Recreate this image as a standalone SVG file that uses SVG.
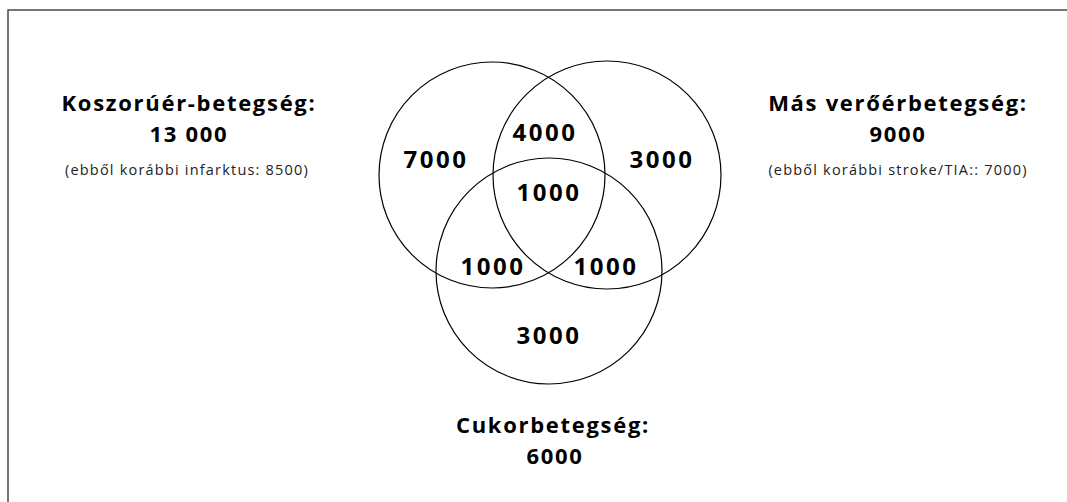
<svg xmlns="http://www.w3.org/2000/svg" width="1067" height="502" viewBox="0 0 1067 502">
<style>
.frame{fill:none;stroke:#4a4a4a;stroke-width:1.5}
.c{fill:none;stroke:#000;stroke-width:1.2}
.t{font-family:"Open Sans",sans-serif;font-weight:700;font-size:22px;letter-spacing:1.7px;fill:#000;text-anchor:middle}
.n{font-family:"Open Sans",sans-serif;font-weight:700;font-size:24px;letter-spacing:2.5px;fill:#000;text-anchor:middle}
.s{font-family:"Open Sans",sans-serif;font-weight:400;font-size:14.5px;letter-spacing:1.2px;fill:#222;text-anchor:middle}
</style>
<rect width="1067" height="502" fill="#fff"/>
<path class="frame" d="M8,502 V10 H1067"/>
<g id="circles">
<circle id="coronary" class="c" cx="492" cy="175" r="113"/>
<circle id="vascular" class="c" cx="607" cy="175" r="114"/>
<circle id="diabetes" class="c" cx="549" cy="271" r="113"/>
</g>
<g id="label-coronary">
<text class="t" x="189" y="111">Koszorúér-betegség:</text>
<text class="t" x="189" y="142">13 000</text>
<text class="s" x="187" y="175">(ebből korábbi infarktus: 8500)</text>
</g>
<g id="label-vascular">
<text class="t" x="898" y="111">Más verőérbetegség:</text>
<text class="t" x="898" y="142">9000</text>
<text class="s" x="898" y="175">(ebből korábbi stroke/TIA:: 7000)</text>
</g>
<g id="label-diabetes">
<text class="t" x="553" y="433">Cukorbetegség:</text>
<text class="t" x="555" y="464">6000</text>
</g>
<g id="values">
<text class="n" x="436" y="168">7000</text>
<text class="n" x="545" y="141">4000</text>
<text class="n" x="662" y="168">3000</text>
<text class="n" x="549" y="201">1000</text>
<text class="n" x="493" y="275">1000</text>
<text class="n" x="606" y="275">1000</text>
<text class="n" x="549" y="344">3000</text>
</g>
</svg>
